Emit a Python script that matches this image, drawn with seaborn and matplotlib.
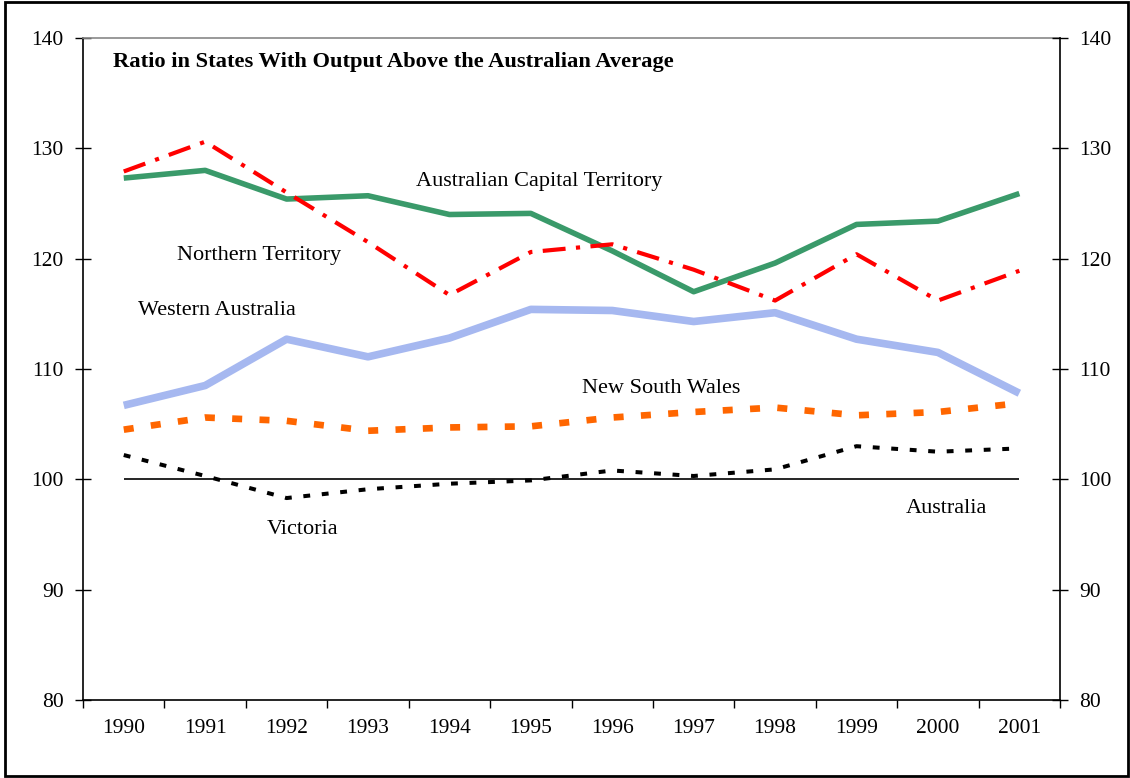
import matplotlib
matplotlib.use("Agg")
import matplotlib.pyplot as plt
import pandas as pd
import seaborn as sns
from matplotlib.patches import Rectangle
from matplotlib.ticker import FixedLocator, NullFormatter

# data
years = ["1990", "1991", "1992", "1993", "1994", "1995",
         "1996", "1997", "1998", "1999", "2000", "2001"]
act = [127.3, 128.0, 125.4, 125.7, 124.0, 124.1, 120.7, 117.0, 119.6, 123.1, 123.4, 125.9]
nt = [127.9, 130.6, 126.0, 121.5, 116.7, 120.6, 121.3, 119.0, 116.2, 120.4, 116.2, 118.9]
wa = [106.7, 108.5, 112.7, 111.1, 112.8, 115.4, 115.3, 114.3, 115.1, 112.7, 111.5, 107.8]
nsw = [104.5, 105.6, 105.3, 104.4, 104.7, 104.8, 105.6, 106.1, 106.5, 105.8, 106.1, 106.9]
vic = [102.2, 100.3, 98.3, 99.1, 99.6, 99.9, 100.8, 100.3, 100.9, 103.0, 102.5, 102.8]
aus = [100.0] * 12

series = {
    "Australian Capital Territory": act,
    "Northern Territory": nt,
    "Western Australia": wa,
    "New South Wales": nsw,
    "Victoria": vic,
    "Australia": aus,
}

styles = {
    "Australian Capital Territory": dict(color="#3A9A6A", lw=4.0, dashes=None),
    "Northern Territory": dict(color="#FF0000", lw=3.0, dashes=(5.5, 2.5, 1, 2.5)),
    "Western Australia": dict(color="#A6B8F0", lw=5.5, dashes=None),
    "New South Wales": dict(color="#FF6600", lw=4.8, dashes=(1.5, 2.6)),
    "Victoria": dict(color="#000000", lw=2.9, dashes=(1.7, 2.9)),
    "Australia": dict(color="#000000", lw=1.2, dashes=None),
}

# label positions (category index, value)
labels = {
    "Australian Capital Territory": (3.59, 126.95),
    "Northern Territory": (0.655, 120.24),
    "Western Australia": (0.175, 115.26),
    "New South Wales": (5.63, 108.19),
    "Victoria": (1.76, 95.41),
    "Australia": (9.60, 97.31),
}

df = pd.DataFrame(series)
df["pos"] = range(len(years))

sns.set_theme(style="white")
plt.rcParams["font.family"] = ["Liberation Serif", "DejaVu Serif"]
plt.rcParams["text.color"] = "black"

fig = plt.figure(figsize=(11.3, 7.78), dpi=100)
ax = fig.add_axes([0.0735, 0.1003, 0.8646, 0.8509])

for name in series:
    st = styles[name]
    sns.lineplot(data=df, x="pos", y=name, ax=ax, color=st["color"],
                 linewidth=st["lw"], legend=False)
    line = ax.lines[-1]
    if st["dashes"] is not None:
        line.set_dashes(st["dashes"])
    line.set_solid_capstyle("butt")

for name, (lx, ly) in labels.items():
    ax.text(lx, ly, name, fontsize=16, va="center", ha="left", color="black")

ax.text(-0.132, 137.8, "Ratio in States With Output Above the Australian Average",
        fontsize=16.2, fontweight="bold", va="center", ha="left", color="black")

ax.set_xlim(-0.5, len(years) - 0.5)
ax.set_ylim(80, 140)
ax.set_xlabel("")
ax.set_ylabel("")

# category axis: ticks between categories, labels at centres
ax.xaxis.set_major_locator(FixedLocator([i - 0.5 for i in range(len(years) + 1)]))
ax.xaxis.set_major_formatter(NullFormatter())
ax.xaxis.set_minor_locator(FixedLocator(list(range(len(years)))))
ax.set_xticklabels(years, minor=True)
ax.tick_params(axis="x", which="major", direction="out", length=6, width=1, color="black", bottom=True)
ax.tick_params(axis="x", which="minor", length=0, pad=14, labelsize=15.5, labelcolor="black")

ax.set_yticks(range(80, 141, 10))
ax.tick_params(axis="y", direction="inout", length=12, width=1, color="black",
               left=True, labelsize=15.5, labelcolor="black", pad=8)

for side in ["left", "bottom"]:
    ax.spines[side].set_color("black")
    ax.spines[side].set_linewidth(1.2)
ax.spines["top"].set_color("#888888")
ax.spines["top"].set_linewidth(1.2)
ax.spines["right"].set_visible(False)

ax2 = ax.twinx()
ax2.set_ylim(80, 140)
ax2.set_yticks(range(80, 141, 10))
ax2.tick_params(axis="y", direction="inout", length=12, width=1, color="black",
                right=True, labelsize=15.5, labelcolor="black", pad=8)
for side in ["left", "top", "bottom"]:
    ax2.spines[side].set_visible(False)
ax2.spines["right"].set_color("black")
ax2.spines["right"].set_linewidth(1.2)
ax2.grid(False)
ax.grid(False)

fig.patches.append(Rectangle((0.004, 0.003), 0.994, 0.994, transform=fig.transFigure,
                             fill=False, edgecolor="black", linewidth=2))

fig.savefig("out.png", dpi=100)
